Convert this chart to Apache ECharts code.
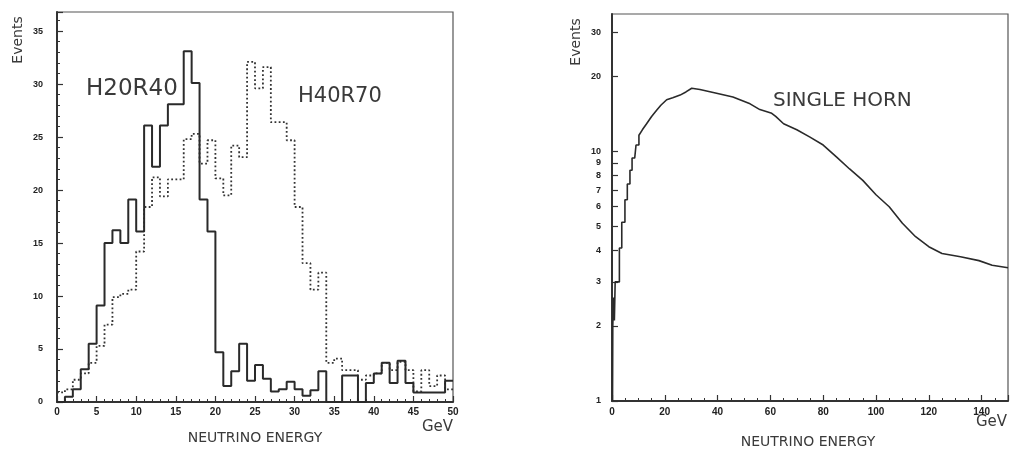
<!DOCTYPE html>
<html><head><meta charset="utf-8">
<script src="https://cdn.jsdelivr.net/npm/echarts@6/dist/echarts.min.js"></script>
<style>html,body{margin:0;padding:0;background:#fff}#c{width:1010px;height:450px}</style>
</head><body><div id="c"></div>
<script>
// Left panel: histograms, 1 GeV bins from 0 to 50 GeV
const binStartsGeV = Array.from({length: 50}, (_, i) => i);
const h20r40 = [0, 0.5, 1.2, 3.1, 5.5, 9.1, 15.0, 16.2, 15.0, 19.1,
  16.1, 26.1, 22.2, 26.1, 28.1, 28.1, 33.1, 30.1, 19.1, 16.1,
  4.7, 1.5, 2.9, 5.5, 2.0, 3.5, 2.2, 1.0, 1.2, 1.9,
  1.2, 0.6, 1.1, 2.9, 0, 0, 2.5, 2.5, 0, 1.8,
  2.7, 3.7, 1.8, 3.9, 1.8, 0.9, 0.9, 0.9, 0.9, 2.0];
const h40r70 = [0.9, 1.2, 2.1, 2.7, 3.7, 5.3, 7.3, 9.9, 10.2, 10.6,
  14.2, 18.4, 21.2, 19.4, 21.0, 21.0, 24.8, 25.3, 22.5, 24.7,
  21.1, 19.5, 24.2, 23.1, 32.1, 29.6, 31.6, 26.4, 26.4, 24.7,
  18.4, 13.1, 10.6, 12.2, 3.7, 4.1, 3.0, 3.0, 2.1, 2.5,
  2.7, 3.7, 3.0, 3.8, 3.0, 1.0, 3.0, 1.5, 2.5, 1.2];
const leftXTicks = [0, 5, 10, 15, 20, 25, 30, 35, 40, 45, 50];
const leftYTicks = [0, 5, 10, 15, 20, 25, 30, 35];

// Right panel: single horn spectrum (log scale)
const singleHornE = [0.2, 0.3, 0.6, 0.9, 1.2, 2.8, 2.8, 3.7, 3.7, 4.9, 4.9, 5.8, 5.8, 6.8, 6.8, 7.6, 7.6, 8.6, 8.6, 9.1, 9.1, 10.2, 10.2,
  11.5, 13.1, 15, 16.9, 18.5, 20.7, 23, 25.8, 28, 30.2, 33.3, 39.6, 45.8, 52.3, 56, 60.5, 62, 65, 70, 75, 80, 85, 90, 95, 100, 105, 110, 115, 120, 125, 132, 139, 144, 150];
const singleHornEvents = [1.0, 2.0, 2.6, 2.1, 3.0, 3.0, 4.1, 4.1, 5.2, 5.2, 6.4, 6.4, 7.4, 7.4, 8.4, 8.4, 9.4, 9.4, 9.5, 9.5, 10.6, 10.6, 11.6,
  12.2, 12.9, 13.8, 14.6, 15.3, 16.1, 16.4, 16.8, 17.3, 17.9, 17.7, 17.1, 16.5, 15.5, 14.7, 14.2, 13.8, 12.9, 12.2, 11.4, 10.6, 9.5, 8.5, 7.65, 6.7, 6.0, 5.15, 4.55, 4.15, 3.9, 3.78, 3.65, 3.5, 3.42];
const rightXTicks = [0, 20, 40, 60, 80, 100, 120, 140];
const rightYTicks = [1, 2, 3, 4, 5, 6, 7, 8, 9, 10, 20, 30];

const stepData = (vals) => {
  const d = binStartsGeV.map((x, i) => [x, vals[i]]);
  d.push([50, vals[vals.length - 1]]);
  return d;
};

const ink = '#333';
const txt = '#3a3a3a';
const lblFont = {color: '#222', fontWeight: 'bold', fontFamily: 'Liberation Sans Narrow, Liberation Sans, sans-serif'};

const chart = echarts.init(document.getElementById('c'), null, {renderer: 'canvas'});
chart.setOption({
  animation: false,
  backgroundColor: '#fff',
  grid: [
    {left: 57, top: 12, width: 396, height: 390, show: true, borderColor: '#555', borderWidth: 1.2},
    {left: 612, top: 14, width: 396, height: 387, show: true, borderColor: '#555', borderWidth: 1.2}
  ],
  xAxis: [
    {gridIndex: 0, type: 'value', min: 0, max: 50, interval: 5,
     axisLine: {lineStyle: {color: ink, width: 2}},
     axisTick: {inside: true, length: 6, lineStyle: {color: ink, width: 1.2}},
     minorTick: {show: true, splitNumber: 5, length: 3, lineStyle: {color: ink, width: 1}},
     splitLine: {show: false},
     axisLabel: Object.assign({fontSize: 10, margin: 5, customValues: leftXTicks}, lblFont)},
    {gridIndex: 1, type: 'value', min: 0, max: 150, interval: 20,
     axisLine: {lineStyle: {color: ink, width: 2}},
     axisTick: {inside: true, length: 6, lineStyle: {color: ink, width: 1.2}},
     minorTick: {show: true, splitNumber: 4, length: 3, lineStyle: {color: ink, width: 1}},
     splitLine: {show: false},
     axisLabel: Object.assign({fontSize: 10, margin: 6, customValues: rightXTicks}, lblFont)}
  ],
  yAxis: [
    {gridIndex: 0, type: 'value', min: 0, max: 36.8, interval: 5,
     axisLine: {lineStyle: {color: ink, width: 2}},
     axisTick: {inside: true, length: 6, lineStyle: {color: ink, width: 1.2}},
     minorTick: {show: true, splitNumber: 5, length: 3, lineStyle: {color: ink, width: 1}},
     splitLine: {show: false},
     axisLabel: Object.assign({fontSize: 9, margin: 14, customValues: leftYTicks}, lblFont)},
    {gridIndex: 1, type: 'log', logBase: 10, min: 1, max: 35.5,
     axisLine: {lineStyle: {color: ink, width: 2}},
     axisTick: {inside: true, length: 6, customValues: rightYTicks, lineStyle: {color: ink, width: 1.2}},
     splitLine: {show: false},
     axisLabel: Object.assign({fontSize: 9, margin: 11, customValues: rightYTicks}, lblFont)}
  ],
  series: [
    {type: 'line', xAxisIndex: 0, yAxisIndex: 0, step: 'end', showSymbol: false, z: 3,
     data: stepData(h40r70), lineStyle: {color: '#333', width: 1.8, type: [1.8, 2.4]}},
    {type: 'line', xAxisIndex: 0, yAxisIndex: 0, step: 'end', showSymbol: false, z: 4,
     data: stepData(h20r40), lineStyle: {color: '#2a2a2a', width: 2}},
    {type: 'line', xAxisIndex: 1, yAxisIndex: 1, showSymbol: false,
     data: singleHornE.map((e, i) => [e, singleHornEvents[i]]),
     lineStyle: {color: '#2a2a2a', width: 1.6}}
  ],
  graphic: [
    {type: 'text', x: 18, y: 40, rotation: Math.PI / 2, style: {text: 'Events', fill: txt, font: '14px "DejaVu Sans"', align: 'center', verticalAlign: 'middle'}},
    {type: 'text', x: 576, y: 42, rotation: Math.PI / 2, style: {text: 'Events', fill: txt, font: '14px "DejaVu Sans"', align: 'center', verticalAlign: 'middle'}},
    {type: 'text', x: 255, y: 438, style: {text: 'NEUTRINO ENERGY', fill: txt, font: '14px "DejaVu Sans"', align: 'center', verticalAlign: 'middle'}},
    {type: 'text', x: 808, y: 442, style: {text: 'NEUTRINO ENERGY', fill: txt, font: '14px "DejaVu Sans"', align: 'center', verticalAlign: 'middle'}},
    {type: 'text', x: 453, y: 427, style: {text: 'GeV', fill: txt, font: '15px "DejaVu Sans"', align: 'right', verticalAlign: 'middle'}},
    {type: 'text', x: 1007, y: 422, style: {text: 'GeV', fill: txt, font: '15px "DejaVu Sans"', align: 'right', verticalAlign: 'middle'}},
    {type: 'text', x: 86, y: 89, style: {text: 'H20R40', fill: txt, font: '23px "DejaVu Sans"', align: 'left', verticalAlign: 'middle'}},
    {type: 'text', x: 298, y: 97, style: {text: 'H40R70', fill: txt, font: '21px "DejaVu Sans"', align: 'left', verticalAlign: 'middle'}},
    {type: 'text', x: 773, y: 101, style: {text: 'SINGLE HORN', fill: txt, font: '20px "DejaVu Sans"', align: 'left', verticalAlign: 'middle'}}
  ]
});
</script></body></html>
